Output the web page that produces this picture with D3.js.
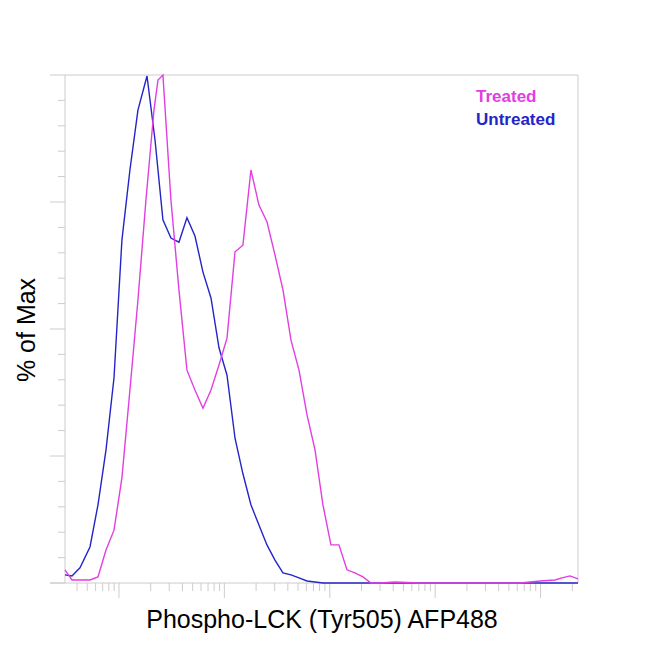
<!DOCTYPE html><html><head><meta charset="utf-8"><script src="https://cdn.jsdelivr.net/npm/d3@7"></script>
<style>body{margin:0;background:#fff}</style></head><body><svg width="650" height="650"></svg><script>
const untreatedLog=[1.488,1.554,1.630,1.725,1.801,1.877,1.953,2.028,2.104,2.180,2.266,2.342,2.417,2.493,2.569,2.645,2.721,2.797,2.873,2.949,3.025,3.101,3.176,3.252,3.328,3.404,3.480,3.556,3.632,3.708,3.784,3.860,3.935,6.355];
const untreatedPct=[1.6,1.4,3.0,7.1,15.4,26.2,40.4,67.5,81.3,93.1,99.8,87.2,71.5,67.9,67.1,71.9,68.3,61.2,56.1,46.3,40.9,28.5,21.5,15.4,11.4,7.5,4.5,2.0,1.6,1.0,0.4,0.2,0,0];
const treatedLog=[1.488,1.554,1.630,1.725,1.801,1.877,1.953,2.028,2.104,2.180,2.256,2.332,2.370,2.417,2.493,2.569,2.645,2.721,2.797,2.873,2.949,3.025,3.101,3.176,3.252,3.328,3.404,3.480,3.556,3.632,3.708,3.784,3.860,3.935,4.011,4.087,4.163,4.239,4.315,4.391,4.476,4.619,4.856,5.805,5.994,6.137,6.203,6.279,6.355];
const treatedPct=[2.6,0.6,0.6,0.6,1.2,6.5,10.4,20.7,38.0,55.7,75.4,93.1,99.0,100,75.4,57.7,41.9,38.0,34.4,38.0,42.9,48.2,65.2,66.5,81.3,74.4,71.1,64.6,57.7,47.8,41.9,33.1,26.2,15.4,7.5,7.5,2.6,2.0,1.2,0,0,0.2,0,0,0.4,0.6,1.0,1.4,0.8];
const seriesNames=["Treated","Untreated"];
const colors=["#e23ee2","#2424c8"];
const xLabel="Phospho-LCK (Tyr505) AFP488", yLabel="% of Max";

const svg=d3.select("svg");
const L=65,R=578,T=75,B=583;
const x=d3.scaleLog().domain([Math.pow(10,1.488),Math.pow(10,6.355)]).range([L,R]);
const y=d3.scaleLinear().domain([0,100]).range([B,T]);
const grey="#cccccc";
// frame
svg.append("line").attr("x1",L).attr("x2",R).attr("y1",T).attr("y2",T).attr("stroke",grey);
svg.append("line").attr("x1",R).attr("x2",R).attr("y1",T).attr("y2",B).attr("stroke",grey);
// y ticks
const gy=svg.append("g").attr("transform",`translate(${L},0)`);
gy.append("line").attr("y1",T).attr("y2",B).attr("stroke",grey);
d3.range(0,101,5).forEach(v=>{const len=v%25===0?15:7;
 gy.append("line").attr("x1",-len).attr("x2",0).attr("y1",y(v)).attr("y2",y(v)).attr("stroke",grey);});
// x ticks
const gx=svg.append("g").attr("transform",`translate(0,${B})`);
gx.append("line").attr("x1",L-15).attr("x2",R).attr("stroke",grey);
x.ticks().forEach(v=>{const e=Math.log10(v);const major=Math.abs(e-Math.round(e))<1e-9;
 gx.append("line").attr("x1",x(v)).attr("x2",x(v)).attr("y1",0).attr("y2",major?15:8).attr("stroke",grey);});
const line=d3.line().x(d=>x(Math.pow(10,d[0]))).y(d=>y(d[1]));
svg.append("path").datum(untreatedLog.map((v,i)=>[v,untreatedPct[i]])).attr("d",line).attr("fill","none").attr("stroke",colors[1]).attr("stroke-width",1.4);
svg.append("path").datum(treatedLog.map((v,i)=>[v,treatedPct[i]])).attr("d",line).attr("fill","none").attr("stroke",colors[0]).attr("stroke-width",1.4);
seriesNames.forEach((n,i)=>svg.append("text").attr("x",476).attr("y",102+i*23).text(n).attr("fill",colors[i]).attr("font-family","Liberation Sans, Arial").attr("font-weight","bold").attr("font-size",17));
svg.append("text").attr("x",322).attr("y",628).attr("text-anchor","middle").attr("font-family","Liberation Sans, Arial").attr("font-size",25).text(xLabel);
svg.append("text").attr("transform","translate(35,330) rotate(-90)").attr("text-anchor","middle").attr("font-family","Liberation Sans, Arial").attr("font-size",25).text(yLabel);
</script></body></html>
